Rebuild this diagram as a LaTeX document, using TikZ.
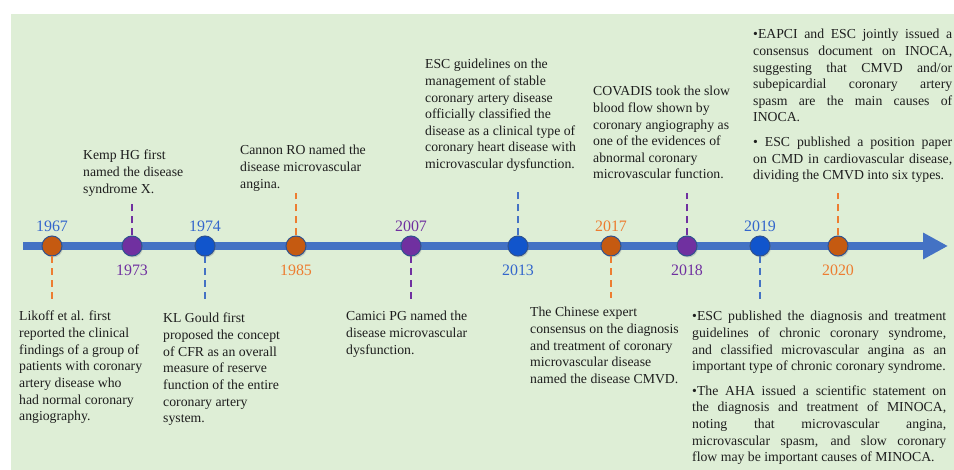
\documentclass[tikz,border=0pt]{standalone}
\usepackage{fontspec}
\setmainfont{Liberation Serif}
\usetikzlibrary{positioning,arrows.meta,shadows}

\definecolor{bggreen}{RGB}{222,238,214}
\definecolor{axisblue}{RGB}{68,114,196}
\definecolor{dotorange}{RGB}{197,90,17}
\definecolor{dotpurple}{RGB}{112,48,160}
\definecolor{dotblue}{RGB}{17,85,204}
\definecolor{dotedge}{RGB}{47,82,143}
\definecolor{yrblue}{RGB}{51,102,204}
\definecolor{yrorange}{RGB}{237,125,49}
\definecolor{txt}{RGB}{30,30,30}

\newcommand\notefont{\fontsize{13.8}{16.7}\selectfont\hyphenpenalty=10000\relax}

\tikzset{
  dot/.style={circle,minimum size=20bp,inner sep=0pt,draw=dotedge,line width=1bp,fill=#1,
    drop shadow={shadow xshift=1bp,shadow yshift=-1.5bp,opacity=0.3}},
  year/.style={text=#1,inner sep=0pt,font=\fontsize{16}{19}\selectfont},
  lead/.style={draw=#1,line width=2bp,dash pattern=on 7bp off 5bp},
  note/.style={anchor=north west,inner sep=0pt,text=txt,align=left,font=\notefont},
  jnote/.style={note,text width=#1,align=justify},
}

\begin{document}
\begin{tikzpicture}[x=1bp,y=-1bp]
    \useasboundingbox (0,0) rectangle (954,470);
    \fill[bggreen] (11,14) rectangle (954,470);

    % time axis
    \coordinate (start) at (23,246);
    \coordinate (end) at (948,246);
    \draw[axisblue,line width=8bp,-{Triangle[length=25bp,width=25bp]}] (start) -- (end);

    % events on the axis
    \node[dot=dotorange] (c1967) at (52,246) {};
    \node[dot=dotpurple] (c1973) at (132,246) {};
    \node[dot=dotblue] (c1974) at (205,246) {};
    \node[dot=dotorange] (c1985) at (296,246) {};
    \node[dot=dotpurple] (c2007) at (411,246) {};
    \node[dot=dotblue] (c2013) at (518,246) {};
    \node[dot=dotorange] (c2017) at (611,246) {};
    \node[dot=dotpurple] (c2018) at (687,246) {};
    \node[dot=dotblue] (c2019) at (760,246) {};
    \node[dot=dotorange] (c2020) at (838,246) {};

    % years
    \node[year=yrblue,above=4bp of c1967] (y1967) {1967};
    \node[year=dotpurple,below=8bp of c1973] (y1973) {1973};
    \node[year=yrblue,above=4bp of c1974] (y1974) {1974};
    \node[year=yrorange,below=8bp of c1985] (y1985) {1985};
    \node[year=dotpurple,above=4bp of c2007] (y2007) {2007};
    \node[year=yrblue,below=8bp of c2013] (y2013) {2013};
    \node[year=yrorange,above=4bp of c2017] (y2017) {2017};
    \node[year=dotpurple,below=8bp of c2018] (y2018) {2018};
    \node[year=yrblue,above=4bp of c2019] (y2019) {2019};
    \node[year=yrorange,below=8bp of c2020] (y2020) {2020};

    % free ends of the dashed leads
    \coordinate (e1967) at (52,299);
    \coordinate (e1973) at (132,202);
    \coordinate (e1974) at (205,302);
    \coordinate (e1985) at (296,193);
    \coordinate (e2007) at (411,303);
    \coordinate (e2013) at (518,188);
    \coordinate (e2017) at (611,298);
    \coordinate (e2018) at (687,193);
    \coordinate (e2019) at (760,303);
    \coordinate (e2020) at (838,193);

    \draw[lead=yrorange] (c1967) -- (e1967);
    \draw[lead=dotpurple] (c1973) -- (e1973);
    \draw[lead=axisblue] (c1974) -- (e1974);
    \draw[lead=yrorange] (c1985) -- (e1985);
    \draw[lead=dotpurple] (c2007) -- (e2007);
    \draw[lead=axisblue] (c2013) -- (e2013);
    \draw[lead=yrorange] (c2017) -- (e2017);
    \draw[lead=dotpurple] (c2018) -- (e2018);
    \draw[lead=axisblue] (c2019) -- (e2019);
    \draw[lead=yrorange] (c2020) -- (e2020);

    % descriptions
    \node[note] (t1967) at (19,311) {Likoff et al. first\\reported the clinical\\findings of a group of\\patients with coronary\\artery disease who\\had normal coronary\\angiography.};
    \node[note] (t1973) at (83,150) {Kemp HG first\\named the disease\\syndrome X.};
    \node[note] (t1974) at (163,313) {KL Gould first\\proposed the concept\\of CFR as an overall\\measure of reserve\\function of the entire\\coronary artery\\system.};
    \node[note] (t1985) at (240,145) {Cannon RO named the\\disease microvascular\\angina.};
    \node[note] (t2007) at (346,311) {Camici PG named the\\disease microvascular\\dysfunction.};
    \node[note] (t2013) at (425,59) {ESC guidelines on the\\management of stable\\coronary artery disease\\officially classified the\\disease as a clinical type of\\coronary heart disease with\\microvascular dysfunction.};
    \node[note] (t2017) at (530,307) {The Chinese expert\\consensus on the diagnosis\\and treatment of coronary\\microvascular disease\\named the disease CMVD.};
    \node[note] (t2018) at (593,86) {COVADIS took the slow\\blood flow shown by\\coronary angiography as\\one of the evidences of\\abnormal coronary\\microvascular function.};
    \node[jnote=254bp] (t2019) at (692,311) {•ESC published the diagnosis and treatment\linebreak
      guidelines of chronic coronary syndrome,\linebreak
      and classified microvascular angina as an\linebreak
      important type of chronic coronary syndrome.\par\vspace{8bp}
      •The AHA issued a scientific statement on\linebreak
      the diagnosis and treatment of MINOCA,\linebreak
      noting that microvascular angina,\linebreak
      microvascular spasm, and slow coronary\linebreak
      flow may be important causes of MINOCA.};
    \node[jnote=199bp] (t2020) at (753,29) {•EAPCI and ESC jointly issued a\linebreak
      consensus document on INOCA,\linebreak
      suggesting that CMVD and/or\linebreak
      subepicardial coronary artery\linebreak
      spasm are the main causes of\linebreak
      INOCA.\par\vspace{8bp}
      • ESC published a position paper\linebreak
      on CMD in cardiovascular disease,\linebreak
      dividing the CMVD into six types.};
\end{tikzpicture}
\end{document}
